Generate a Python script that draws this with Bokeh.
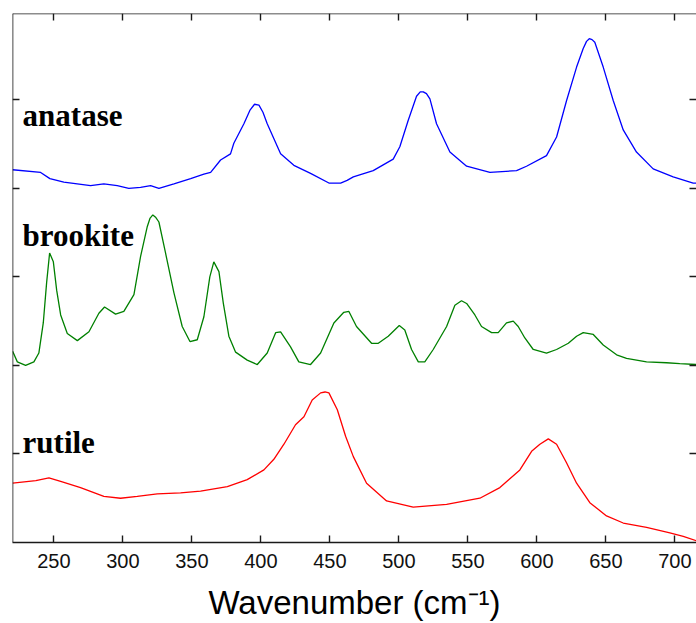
from bokeh.plotting import figure
from bokeh.models import LinearAxis, FixedTicker, ColumnDataSource
from bokeh.core.properties import value
from bokeh.embed import file_html
from bokeh.resources import INLINE

# Raman spectra of the three TiO2 polymorphs, stacked with vertical offsets
anatase_wn = [220.1, 240.4, 247.1, 257.2, 276.6, 286.2, 295.9, 304.3, 312.8, 320.1,
              326.1, 337.0, 349.1, 358.7, 363.6, 370.8, 378.0, 380.4, 387.7, 392.0,
              395.4, 398.6, 401.5, 404.6, 414.3, 423.9, 436.0, 449.3, 457.8, 462.5,
              467.0, 481.4, 495.9, 500.7, 506.8, 512.8, 515.5, 517.7, 520.0, 522.5,
              527.3, 537.0, 549.1, 566.0, 585.3, 592.5, 607.0, 614.3, 621.5, 628.8,
              633.6, 636.0, 638.0, 640.0, 642.0, 648.1, 655.4, 662.6, 672.2, 684.3,
              698.8, 713.3, 715.7]
anatase_int = [4.21, 4.18, 4.11, 4.07, 4.03, 4.05, 4.03, 4.00, 4.01, 4.03,
               4.00, 4.05, 4.11, 4.16, 4.18, 4.32, 4.39, 4.51, 4.73, 4.88,
               4.95, 4.94, 4.86, 4.73, 4.39, 4.26, 4.17, 4.06, 4.06, 4.09,
               4.13, 4.20, 4.33, 4.47, 4.77, 5.04, 5.09, 5.09, 5.07, 5.01,
               4.73, 4.41, 4.25, 4.18, 4.20, 4.25, 4.37, 4.58, 4.99, 5.37,
               5.58, 5.66, 5.69, 5.68, 5.65, 5.37, 4.99, 4.66, 4.41, 4.22,
               4.13, 4.06, 4.06]

brookite_wn = [220.1, 223.5, 229.5, 235.5, 239.1, 242.3, 244.7, 246.9, 249.6, 252.0,
               254.9, 259.7, 267.0, 275.4, 282.6, 286.7, 294.7, 300.7, 308.0, 312.8,
               317.7, 319.6, 321.7, 323.9, 326.1, 330.9, 337.0, 343.0, 348.6, 353.9,
               358.7, 363.0, 365.9, 369.6, 372.8, 376.8, 381.7, 390.1, 397.4, 404.6,
               410.7, 414.3, 421.5, 427.5, 436.0, 443.3, 452.9, 460.1, 463.8, 469.3,
               480.2, 485.1, 492.3, 500.3, 504.3, 509.2, 514.1, 518.8, 524.9, 534.6,
               540.6, 545.4, 549.1, 555.1, 559.9, 567.2, 572.0, 578.0, 582.9, 586.5,
               591.3, 597.4, 607.0, 614.3, 622.8, 628.8, 633.6, 640.9, 648.1, 657.8,
               665.0, 679.5, 694.0, 703.6, 715.7]
brookite_int = [2.16, 2.04, 2.00, 2.04, 2.14, 2.48, 2.93, 3.27, 3.17, 2.85,
                2.57, 2.36, 2.28, 2.38, 2.59, 2.66, 2.58, 2.61, 2.80, 3.23,
                3.57, 3.66, 3.70, 3.67, 3.62, 3.27, 2.82, 2.44, 2.27, 2.29,
                2.55, 3.00, 3.17, 3.06, 2.70, 2.33, 2.15, 2.06, 2.01, 2.14,
                2.37, 2.38, 2.21, 2.04, 2.01, 2.14, 2.48, 2.60, 2.61, 2.44,
                2.25, 2.25, 2.33, 2.45, 2.40, 2.18, 2.04, 2.04, 2.18, 2.44,
                2.68, 2.73, 2.70, 2.57, 2.44, 2.37, 2.37, 2.48, 2.50, 2.44,
                2.31, 2.18, 2.14, 2.18, 2.25, 2.33, 2.37, 2.35, 2.23, 2.12,
                2.08, 2.04, 2.03, 2.02, 2.01]

rutile_wn = [220.1, 236.9, 246.4, 254.9, 269.3, 286.2, 298.3, 310.4, 324.9, 341.8,
             356.3, 375.7, 390.1, 402.2, 409.4, 416.7, 425.1, 431.2, 437.2, 443.3,
             446.5, 449.3, 455.4, 461.4, 467.0, 476.6, 491.1, 510.4, 534.6, 558.7,
             573.2, 587.7, 596.2, 602.2, 608.3, 614.3, 621.5, 628.8, 638.4, 650.5,
             662.6, 679.5, 696.4, 706.1, 715.7]
rutile_int = [0.67, 0.70, 0.73, 0.69, 0.62, 0.52, 0.50, 0.52, 0.55, 0.56,
              0.58, 0.63, 0.71, 0.82, 0.94, 1.11, 1.33, 1.42, 1.61, 1.69,
              1.70, 1.69, 1.50, 1.20, 0.97, 0.67, 0.47, 0.40, 0.43, 0.50,
              0.62, 0.82, 1.03, 1.11, 1.17, 1.11, 0.90, 0.67, 0.45, 0.30,
              0.22, 0.17, 0.11, 0.07, 0.02]

phase_names = ["anatase", "brookite", "rutile"]
phase_colors = ["#0000ff", "#008000", "#ff0000"]

x_ticks = [250, 300, 350, 400, 450, 500, 550, 600, 650, 700]
y_ticks = [1, 2, 3, 4, 5]

X_MIN, X_MAX = 220, 715.7
Y_MIN, Y_MAX = 0, 5.975

p = figure(width=696, height=623, x_range=(X_MIN, X_MAX), y_range=(Y_MIN, Y_MAX),
           output_backend="svg", toolbar_location=None,
           x_axis_location=None, y_axis_location=None,
           min_border_left=12, min_border_right=0, min_border_top=13,
           min_border_bottom=80)
p.outline_line_color = None
p.grid.visible = False
p.background_fill_color = "white"
p.border_fill_color = "white"

AX_COLOR = "#1a1a1a"


def frame_axis(ticks, **kw):
    ax = LinearAxis(ticker=FixedTicker(ticks=ticks), **kw)
    ax.major_tick_in = 7
    ax.major_tick_out = 0
    ax.minor_tick_line_color = None
    ax.axis_line_color = AX_COLOR
    ax.axis_line_width = 1.6
    ax.major_tick_line_color = AX_COLOR
    ax.major_tick_line_width = 1.4
    return ax


# bottom axis with labels
bottom = frame_axis(x_ticks, axis_label="Wavenumber (cm\u207b\u00b9)")
bottom.major_label_text_font = "Liberation Sans"
bottom.major_label_text_font_size = "20px"
bottom.major_label_text_color = "#111111"
bottom.major_label_standoff = 11
bottom.axis_label_text_font = "Liberation Sans"
bottom.axis_label_text_font_style = "normal"
bottom.axis_label_text_font_size = "33px"
bottom.axis_label_text_color = "#000000"
bottom.axis_label_standoff = 13
p.add_layout(bottom, "below")

# unlabeled tick axes on the other three sides of the frame
top = frame_axis(x_ticks, fixed_location=Y_MAX)
top.major_label_text_color = None
p.add_layout(top, "above")

left = frame_axis(y_ticks, fixed_location=X_MIN)
left.major_label_text_color = None
p.add_layout(left, "left")

right = frame_axis(y_ticks, fixed_location=X_MAX)
right.major_label_text_color = None
right.axis_line_color = None
p.add_layout(right, "right")

spectra = [(anatase_wn, anatase_int), (brookite_wn, brookite_int), (rutile_wn, rutile_int)]
for (wn, inten), color in zip(spectra, phase_colors):
    p.line(wn, inten, line_color=color, line_width=1.3)

# phase names written at the left of each trace
label_x = [227.3, 227.3, 227.3]
label_y = [4.825, 3.472, 1.127]
src = ColumnDataSource(dict(x=label_x, y=label_y, text=phase_names))
p.text(x="x", y="y", text="text", source=src,
       text_font=value("Liberation Serif"), text_font_style="bold",
       text_font_size="31px", text_color="#000000",
       text_align="left", text_baseline="alphabetic")

open("out.html", "w").write(file_html(p, INLINE))
